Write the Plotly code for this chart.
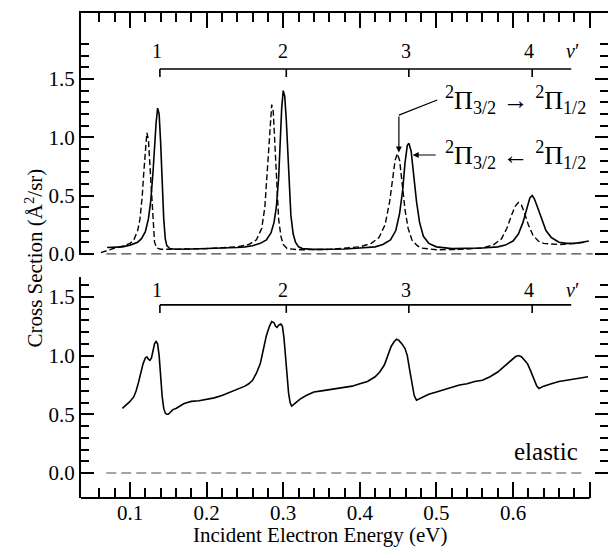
import plotly.graph_objects as go

# ---------------- data ----------------
solid_x = [0.070, 0.080, 0.090, 0.100, 0.110, 0.115, 0.120, 0.124, 0.127, 0.130, 0.132, 0.134, 0.136,
           0.138, 0.140, 0.142, 0.144, 0.146, 0.148, 0.152, 0.160, 0.180, 0.200, 0.220, 0.240, 0.250,
           0.260, 0.270, 0.278, 0.284, 0.288, 0.291, 0.294, 0.296, 0.298, 0.300, 0.302, 0.304, 0.306,
           0.308, 0.310, 0.313, 0.316, 0.320, 0.325, 0.340, 0.360, 0.380, 0.400, 0.420, 0.430, 0.440,
           0.447, 0.452, 0.456, 0.459, 0.462, 0.464, 0.467, 0.470, 0.474, 0.478, 0.483, 0.490, 0.500,
           0.520, 0.540, 0.560, 0.580, 0.590, 0.600, 0.607, 0.613, 0.618, 0.622, 0.625, 0.628, 0.632,
           0.637, 0.643, 0.650, 0.660, 0.670, 0.680, 0.690, 0.699]
solid_y = [0.055, 0.055, 0.060, 0.075, 0.100, 0.130, 0.190, 0.300, 0.450, 0.700, 0.920, 1.120, 1.250,
           1.200, 0.950, 0.600, 0.300, 0.130, 0.070, 0.045, 0.040, 0.042, 0.045, 0.050, 0.055, 0.060,
           0.070, 0.090, 0.120, 0.180, 0.270, 0.400, 0.650, 0.950, 1.250, 1.400, 1.350, 1.150, 0.850,
           0.550, 0.330, 0.170, 0.100, 0.060, 0.045, 0.038, 0.038, 0.042, 0.050, 0.060, 0.080, 0.120,
           0.200, 0.350, 0.550, 0.780, 0.930, 0.950, 0.880, 0.700, 0.450, 0.270, 0.150, 0.090, 0.060,
           0.045, 0.045, 0.050, 0.060, 0.075, 0.110, 0.170, 0.270, 0.400, 0.480, 0.500, 0.470, 0.400,
           0.300, 0.200, 0.140, 0.100, 0.090, 0.090, 0.100, 0.110]

dashed_x = [0.062, 0.070, 0.080, 0.090, 0.100, 0.105, 0.110, 0.113, 0.116, 0.118, 0.120, 0.122, 0.124,
            0.126, 0.128, 0.130, 0.132, 0.135, 0.140, 0.160, 0.200, 0.240, 0.255, 0.265, 0.272, 0.276,
            0.279, 0.282, 0.285, 0.287, 0.289, 0.291, 0.294, 0.297, 0.300, 0.305, 0.320, 0.360, 0.400,
            0.415, 0.425, 0.433, 0.439, 0.443, 0.446, 0.449, 0.452, 0.455, 0.459, 0.463, 0.468, 0.475,
            0.480, 0.500, 0.530, 0.560, 0.575, 0.585, 0.592, 0.598, 0.603, 0.607, 0.611, 0.615, 0.620,
            0.626, 0.633, 0.640, 0.660, 0.680, 0.695]
dashed_y = [0.010, 0.030, 0.050, 0.065, 0.090, 0.120, 0.200, 0.300, 0.500, 0.700, 0.920, 1.040, 0.980,
            0.750, 0.450, 0.220, 0.100, 0.050, 0.040, 0.040, 0.045, 0.060, 0.080, 0.120, 0.220, 0.400,
            0.700, 1.050, 1.280, 1.220, 0.950, 0.600, 0.300, 0.150, 0.080, 0.045, 0.035, 0.038, 0.060,
            0.090, 0.140, 0.250, 0.450, 0.650, 0.800, 0.860, 0.800, 0.620, 0.380, 0.220, 0.120, 0.070,
            0.050, 0.035, 0.038, 0.050, 0.080, 0.130, 0.220, 0.330, 0.410, 0.440, 0.420, 0.350, 0.250,
            0.160, 0.110, 0.090, 0.080, 0.090, 0.100]

elastic_x = [0.090, 0.095, 0.100, 0.105, 0.108, 0.111, 0.114, 0.117, 0.120, 0.122, 0.124, 0.126, 0.128,
             0.130, 0.132, 0.134, 0.136, 0.138, 0.140, 0.142, 0.144, 0.146, 0.148, 0.150, 0.153, 0.156,
             0.160, 0.165, 0.170, 0.175, 0.180, 0.190, 0.200, 0.210, 0.220, 0.230, 0.240, 0.250, 0.255,
             0.260, 0.265, 0.270, 0.274, 0.278, 0.282, 0.285, 0.288, 0.290, 0.292, 0.294, 0.297, 0.299,
             0.301, 0.303, 0.305, 0.307, 0.309, 0.311, 0.313, 0.317, 0.322, 0.330, 0.340, 0.350, 0.360,
             0.370, 0.380, 0.390, 0.400, 0.410, 0.420, 0.426, 0.432, 0.437, 0.441, 0.445, 0.448, 0.451,
             0.455, 0.459, 0.462, 0.465, 0.468, 0.471, 0.474, 0.477, 0.480, 0.490, 0.500, 0.510, 0.520,
             0.530, 0.540, 0.550, 0.560, 0.570, 0.580, 0.590, 0.597, 0.603, 0.607, 0.611, 0.615, 0.619,
             0.623, 0.627, 0.631, 0.634, 0.637, 0.640, 0.650, 0.660, 0.670, 0.680, 0.690, 0.698]
elastic_y = [0.550, 0.580, 0.610, 0.650, 0.700, 0.770, 0.850, 0.930, 0.980, 0.990, 0.970, 0.960, 0.980,
             1.050, 1.100, 1.120, 1.100, 1.000, 0.820, 0.650, 0.550, 0.510, 0.500, 0.500, 0.520, 0.540,
             0.550, 0.570, 0.590, 0.600, 0.610, 0.615, 0.625, 0.640, 0.660, 0.685, 0.710, 0.740, 0.760,
             0.790, 0.850, 0.930, 1.050, 1.170, 1.250, 1.290, 1.280, 1.250, 1.240, 1.260, 1.270, 1.250,
             1.150, 0.980, 0.820, 0.680, 0.600, 0.570, 0.580, 0.600, 0.630, 0.660, 0.690, 0.700, 0.710,
             0.720, 0.730, 0.740, 0.760, 0.780, 0.820, 0.860, 0.920, 1.000, 1.080, 1.120, 1.140, 1.130,
             1.100, 1.060, 1.000, 0.880, 0.760, 0.660, 0.620, 0.630, 0.640, 0.670, 0.690, 0.710, 0.730,
             0.750, 0.760, 0.780, 0.790, 0.820, 0.860, 0.920, 0.960, 0.990, 1.000, 0.990, 0.960, 0.930,
             0.870, 0.800, 0.740, 0.720, 0.730, 0.740, 0.760, 0.780, 0.790, 0.800, 0.810, 0.820]

vib_levels = ["1", "2", "3", "4"]
vib_energy = [0.139, 0.304, 0.464, 0.625]

x_major = [0.1, 0.2, 0.3, 0.4, 0.5, 0.6, 0.7]
x_labels = ["0.1", "0.2", "0.3", "0.4", "0.5", "0.6", ""]
x_minor = [0.06, 0.08, 0.12, 0.14, 0.16, 0.18, 0.22, 0.24, 0.26, 0.28, 0.32, 0.34, 0.36, 0.38,
           0.42, 0.44, 0.46, 0.48, 0.52, 0.54, 0.56, 0.58, 0.62, 0.64, 0.66, 0.68]
y_major = [0.0, 0.5, 1.0, 1.5]
y_labels = ["0.0", "0.5", "1.0", "1.5"]
y_minor_top = [0.1, 0.2, 0.3, 0.4, 0.6, 0.7, 0.8, 0.9, 1.1, 1.2, 1.3, 1.4, 1.6, 1.7, 1.8]
y_minor_bot = [0.1, 0.2, 0.3, 0.4, 0.6, 0.7, 0.8, 0.9, 1.1, 1.2, 1.3, 1.4, 1.6]

# ---------------- figure ----------------
FONT = "Liberation Serif"
X0, X1 = 0.036, 0.724
Y_TOP = [-0.01, 2.066]
Y_BOT = [-0.213, 1.67]
TOP_DOM = [0.501, 1.0]
BOT_DOM = [0.0, 0.4557]
tickfont = dict(family=FONT, size=21, color="black")

fig = go.Figure()
fig.add_trace(go.Scatter(x=dashed_x, y=dashed_y, mode="lines", xaxis="x", yaxis="y",
                         line=dict(color="black", width=1.4, dash="6px,3px")))
fig.add_trace(go.Scatter(x=solid_x, y=solid_y, mode="lines", xaxis="x", yaxis="y",
                         line=dict(color="black", width=1.6)))
fig.add_trace(go.Scatter(x=elastic_x, y=elastic_y, mode="lines", xaxis="x2", yaxis="y2",
                         line=dict(color="black", width=1.6)))
# empty traces so that the right-hand tick-only axes get drawn
fig.add_trace(go.Scatter(x=[None], y=[None], xaxis="x", yaxis="y3", hoverinfo="skip"))
fig.add_trace(go.Scatter(x=[None], y=[None], xaxis="x2", yaxis="y4", hoverinfo="skip"))

TICKSTYLE = dict(ticks="inside", tickwidth=2, tickcolor="black")


def xax(anchor, side, labels, major_len, minor_len, line):
    return dict(domain=[0, 1], range=[X0, X1], anchor=anchor, side=side, automargin=False,
                showline=line, linecolor="black", linewidth=2, ticklen=major_len, **TICKSTYLE,
                tickmode="array", tickvals=x_major, ticktext=x_labels,
                showticklabels=labels, tickfont=tickfont,
                minor=dict(tickmode="array", tickvals=x_minor, ticklen=minor_len, **TICKSTYLE),
                showgrid=False, zeroline=False)


def yax(anchor, domain, rng, minor_vals, side="left", overlay=None):
    d = dict(domain=domain, range=rng, anchor=anchor, side=side, automargin=False,
             showline=(side == "left"), linecolor="black", linewidth=2, ticklen=13, **TICKSTYLE,
             tickmode="array", tickvals=y_major, ticktext=y_labels,
             showticklabels=(side == "left"), tickfont=tickfont,
             minor=dict(tickmode="array", tickvals=minor_vals, ticklen=8, **TICKSTYLE),
             showgrid=False, zeroline=False)
    if overlay:
        d["overlaying"] = overlay
    return d


fig.update_layout(
    template="none",
    width=608, height=558,
    margin=dict(l=81, r=0, t=13, b=60, autoexpand=False),
    paper_bgcolor="white", plot_bgcolor="white",
    font=dict(family=FONT, color="black"),
    showlegend=False,
    xaxis=xax("y", "top", False, 15, 9, True),
    xaxis2=xax("y2", "bottom", True, 16, 10, False),
    yaxis=yax("x", TOP_DOM, Y_TOP, y_minor_top),
    yaxis2=yax("x2", BOT_DOM, Y_BOT, y_minor_bot),
    yaxis3=yax("x", TOP_DOM, Y_TOP, y_minor_top, side="right", overlay="y"),
    yaxis4=yax("x2", BOT_DOM, Y_BOT, y_minor_bot, side="right", overlay="y2"),
)

shapes = []
# bottom axis line (ends at 0.70)
shapes.append(dict(type="line", xref="x2", yref="y2 domain", x0=X0, x1=0.70, y0=0, y1=0,
                   line=dict(color="black", width=2)))
# zero reference lines
shapes.append(dict(type="line", xref="x", yref="y", x0=0.069, x1=0.704, y0=0, y1=0,
                   line=dict(color="#444444", width=1.4, dash="10px,5px")))
shapes.append(dict(type="line", xref="x2", yref="y2", x0=0.069, x1=0.691, y0=0, y1=0,
                   line=dict(color="#888888", width=1.4, dash="10px,5px")))
# vibrational-level brackets
for xr, yr, ybar, ytick in (("x", "y", 1.585, 1.517), ("x2", "y2", 1.432, 1.364)):
    shapes.append(dict(type="line", xref=xr, yref=yr, x0=vib_energy[0], x1=0.676,
                       y0=ybar, y1=ybar, line=dict(color="black", width=1.6)))
    for e in vib_energy:
        shapes.append(dict(type="line", xref=xr, yref=yr, x0=e, x1=e, y0=ybar, y1=ytick,
                           line=dict(color="black", width=1.6)))
# leader of first arrow
shapes.append(dict(type="line", xref="x", yref="y", x0=0.501, y0=1.32, x1=0.451, y1=1.19,
                   line=dict(color="black", width=1.2)))
fig.update_layout(shapes=shapes)

ann = []
for xr, yr, ylab in (("x", "y", 1.74), ("x2", "y2", 1.556)):
    for lab, e in zip(vib_levels, vib_energy):
        ann.append(dict(xref=xr, yref=yr, x=e - 0.004, y=ylab, text=lab, showarrow=False,
                        font=dict(family=FONT, size=20, color="black")))
    ann.append(dict(xref=xr, yref=yr, x=0.677, y=ylab, text="<i>v</i>\u2032", showarrow=False,
                    font=dict(family=FONT, size=20, color="black")))

ann.append(dict(xref="x", yref="y", x=0.5086, y=1.32, xanchor="left",
                text="<sup>2</sup>\u03a0<sub>3/2</sub> \u2192 <sup>2</sup>\u03a0<sub>1/2</sub>",
                showarrow=False, font=dict(family=FONT, size=26, color="black")))
ann.append(dict(xref="x", yref="y", x=0.5086, y=0.848, xanchor="left",
                text="<sup>2</sup>\u03a0<sub>3/2</sub> \u2190 <sup>2</sup>\u03a0<sub>1/2</sub>",
                showarrow=False, font=dict(family=FONT, size=26, color="black")))
# arrows
ann.append(dict(xref="x", yref="y", axref="x", ayref="y", x=0.451, y=0.87, ax=0.451, ay=1.19,
                text="", showarrow=True, arrowhead=2, arrowsize=1, arrowwidth=1.2, arrowcolor="black"))
ann.append(dict(xref="x", yref="y", axref="x", ayref="y", x=0.469, y=0.848, ax=0.501, ay=0.848,
                text="", showarrow=True, arrowhead=2, arrowsize=1, arrowwidth=1.2, arrowcolor="black"))
# elastic label
ann.append(dict(xref="x2", yref="y2", x=0.643, y=0.18, text="elastic", showarrow=False,
                font=dict(family=FONT, size=25, color="black")))
# axis titles
ann.append(dict(xref="paper", yref="paper", x=(320 - 81) / 527, y=(498 - 549) / 485,
                text="Incident Electron Energy (eV)", showarrow=False,
                font=dict(family=FONT, size=21, color="black")))
ann.append(dict(xref="paper", yref="paper", x=(18 - 81) / 527, y=(498 - 258) / 485,
                text="Cross Section (\u00c5<sup>2</sup>/sr)", textangle=-90, showarrow=False,
                font=dict(family=FONT, size=21, color="black")))
fig.update_layout(annotations=ann)

# the page's default 8px body margin would shift the 608x558 figure inside the window
fig.write_html("out.html", config={"displayModeBar": False},
               post_script="document.body.style.margin='0px';")
